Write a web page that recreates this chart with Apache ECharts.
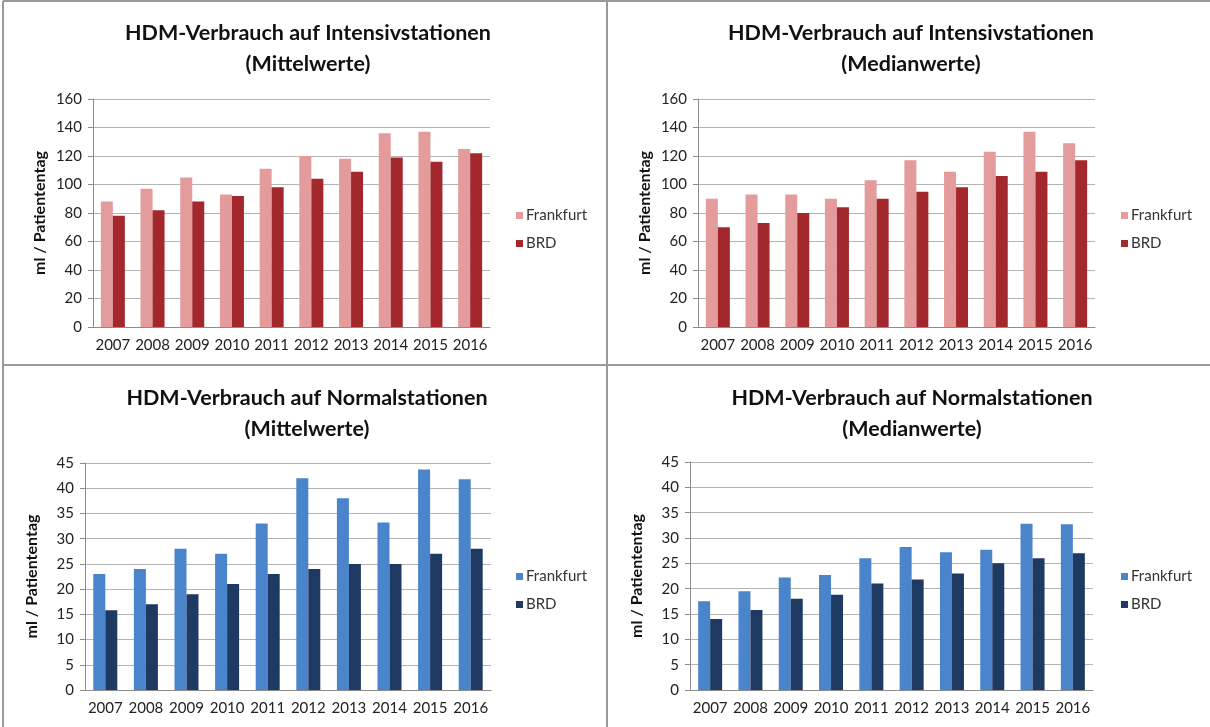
<!DOCTYPE html>
<html>
<head>
<meta charset="utf-8">
<title>HDM-Verbrauch</title>
<script src="https://cdn.jsdelivr.net/npm/echarts@6/dist/echarts.min.js"></script>
<style>
  html, body { margin: 0; padding: 0; background: #fff; }
  #main { width: 1210px; height: 727px; }
</style>
</head>
<body>
<div id="main"></div>
<script>
var years = ['2007','2008','2009','2010','2011','2012','2013','2014','2015','2016'];

// Intensivstationen, Mittelwerte
var intMittelFrankfurt = [88, 97, 105, 93, 111, 120, 118, 136, 137, 125];
var intMittelBRD       = [78, 82, 88, 92, 98, 104, 109, 119, 116, 122];
// Intensivstationen, Medianwerte
var intMedianFrankfurt = [90, 93, 93, 90, 103, 117, 109, 123, 137, 129];
var intMedianBRD       = [70, 73, 80, 84, 90, 95, 98, 106, 109, 117];
// Normalstationen, Mittelwerte
var normMittelFrankfurt = [23, 24, 28, 27, 33, 42, 38, 33.2, 43.7, 41.8];
var normMittelBRD       = [15.8, 17, 19, 21, 23, 24, 25, 25, 27, 28];
// Normalstationen, Medianwerte
var normMedianFrankfurt = [17.5, 19.5, 22.2, 22.7, 26, 28.2, 27.2, 27.7, 32.8, 32.7];
var normMedianBRD       = [14, 15.8, 18, 18.8, 21, 21.8, 23, 25, 26, 27];

var font = 'Lato, "Open Sans", sans-serif';
var red = ['#e49b9b', '#a3282d'];
var blue = ['#4a84cb', '#1e3a62'];

// one panel per quadrant
var panels = [
  { title: 'HDM-Verbrauch auf Intensivstationen', sub: '(Mittelwerte)', cx: 303, cy: 0,
    grid: { left: 93, top: 99, width: 397, height: 228 }, max: 160, step: 20,
    colors: red, fra: intMittelFrankfurt, brd: intMittelBRD, legendX: 511, legendY: 203 },
  { title: 'HDM-Verbrauch auf Intensivstationen', sub: '(Medianwerte)', cx: 906, cy: 0,
    grid: { left: 698, top: 99, width: 397, height: 228 }, max: 160, step: 20,
    colors: red, fra: intMedianFrankfurt, brd: intMedianBRD, legendX: 1116, legendY: 203 },
  { title: 'HDM-Verbrauch auf Normalstationen', sub: '(Mittelwerte)', cx: 302, cy: 365,
    grid: { left: 85, top: 463, width: 406, height: 227 }, max: 45, step: 5,
    colors: blue, fra: normMittelFrankfurt, brd: normMittelBRD, legendX: 511, legendY: 564 },
  { title: 'HDM-Verbrauch auf Normalstationen', sub: '(Medianwerte)', cx: 907, cy: 365,
    grid: { left: 690, top: 462, width: 403, height: 228 }, max: 45, step: 5,
    colors: blue, fra: normMedianFrankfurt, brd: normMedianBRD, legendX: 1116, legendY: 564 }
];

var option = {
  animation: false,
  backgroundColor: '#fff',
  textStyle: { fontFamily: font },
  title: [], legend: [], grid: [], xAxis: [], yAxis: [], series: [],
  graphic: [
    { type: 'line', shape: { x1: 3, y1: 1, x2: 1210, y2: 1 }, style: { stroke: '#9a9a9a', lineWidth: 2 } },
    { type: 'line', shape: { x1: 3, y1: 1, x2: 3, y2: 727 }, style: { stroke: '#9a9a9a', lineWidth: 2 } },
    { type: 'line', shape: { x1: 607, y1: 1, x2: 607, y2: 727 }, style: { stroke: '#9a9a9a', lineWidth: 2 } },
    { type: 'line', shape: { x1: 3, y1: 365, x2: 1210, y2: 365 }, style: { stroke: '#9a9a9a', lineWidth: 2 } }
  ]
};

panels.forEach(function (p, i) {
  option.title.push({
    text: p.title + '\n' + p.sub,
    left: p.cx, top: p.cy + 13, textAlign: 'center',
    textStyle: { fontFamily: font, fontSize: 21.5, fontWeight: 'bold', color: '#111', lineHeight: 31 }
  });
  option.legend.push({
    orient: 'vertical', left: p.legendX, top: p.legendY,
    itemWidth: 7, itemHeight: 7, itemGap: 13, icon: 'rect',
    textStyle: { fontFamily: font, fontSize: 15, color: '#333', padding: [0, 0, 0, -2] },
    data: [
      { name: 'Frankfurt', itemStyle: { color: p.colors[0] } },
      { name: 'BRD', itemStyle: { color: p.colors[1] } }
    ]
  });
  option.grid.push(p.grid);
  option.xAxis.push({
    type: 'category', gridIndex: i, data: years,
    axisLine: { lineStyle: { color: '#8c8c8c' } },
    axisTick: { length: 5, lineStyle: { color: '#8c8c8c' } },
    axisLabel: { fontFamily: font, fontSize: 15, color: '#222', margin: 11, interval: 0 }
  });
  option.yAxis.push({
    type: 'value', gridIndex: i, min: 0, max: p.max, interval: p.step,
    name: 'ml / Patiententag', nameLocation: 'middle', nameGap: 45, nameRotate: 90,
    nameTextStyle: { fontFamily: font, fontSize: 16, fontWeight: 'bold', color: '#111' },
    axisLine: { show: true, lineStyle: { color: '#8c8c8c' } },
    axisTick: { show: true, length: 5, lineStyle: { color: '#8c8c8c' } },
    axisLabel: { fontFamily: font, fontSize: 15, color: '#222', margin: 11 },
    splitLine: { lineStyle: { color: '#b4b4b4' } }
  });
  option.series.push({
    name: 'Frankfurt', type: 'bar', xAxisIndex: i, yAxisIndex: i,
    data: p.fra, barWidth: 12, barGap: '0%',
    itemStyle: { color: p.colors[0] }
  });
  option.series.push({
    name: 'BRD', type: 'bar', xAxisIndex: i, yAxisIndex: i,
    data: p.brd, barWidth: 12, barGap: '0%',
    itemStyle: { color: p.colors[1] }
  });
});

var myChart = echarts.init(document.getElementById('main'));
myChart.setOption(option);
</script>
</body>
</html>
